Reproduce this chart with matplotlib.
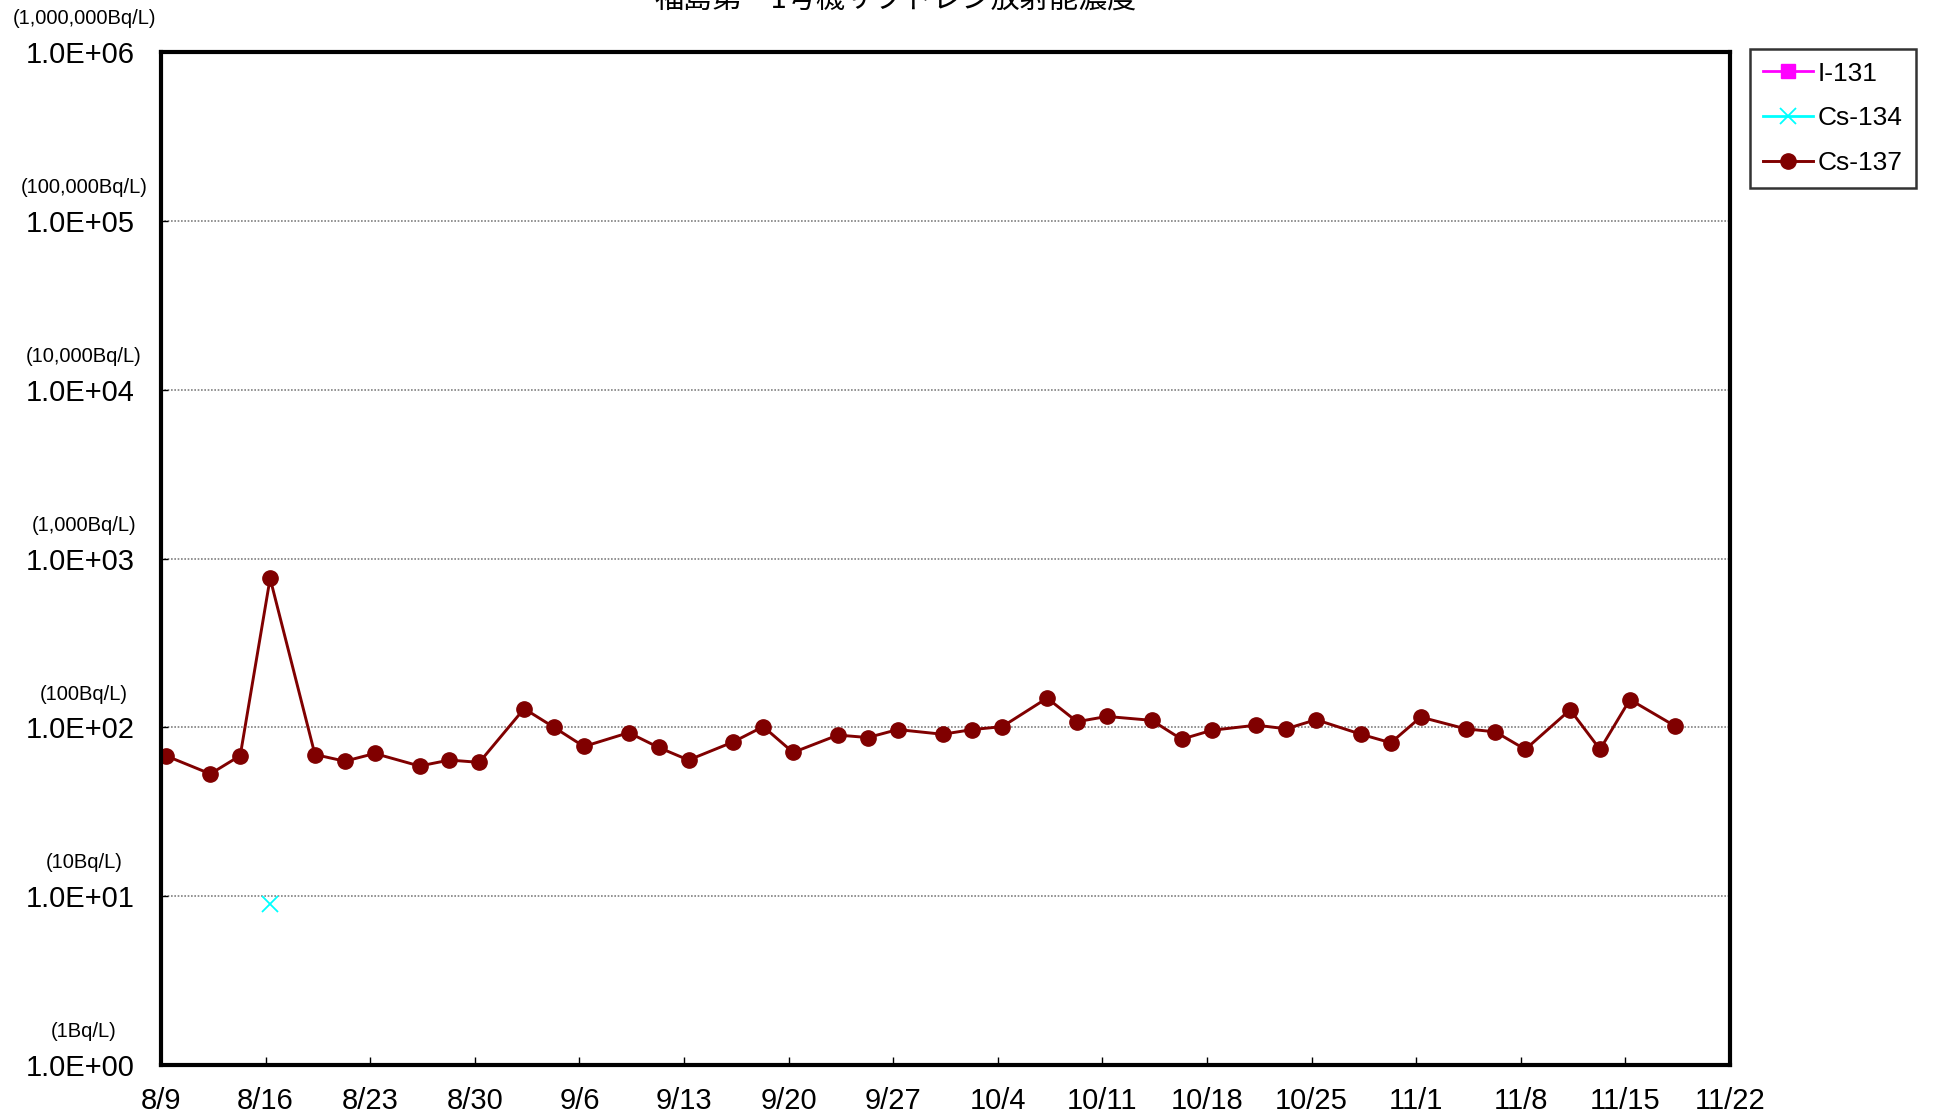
import matplotlib
matplotlib.use('Agg')
import matplotlib.pyplot as plt
import matplotlib.dates as mdates
import matplotlib.transforms as mtransforms
from datetime import datetime

plt.rcParams['font.family'] = ['Liberation Sans', 'Noto Sans CJK JP', 'DejaVu Sans']

title = "福島第一1号機サブドレン放射能濃度"

sample_dates = ["2011-08-09", "2011-08-12", "2011-08-14", "2011-08-16", "2011-08-19",
                "2011-08-21", "2011-08-23", "2011-08-26", "2011-08-28", "2011-08-30",
                "2011-09-02", "2011-09-04", "2011-09-06", "2011-09-09", "2011-09-11",
                "2011-09-13", "2011-09-16", "2011-09-18", "2011-09-20", "2011-09-23",
                "2011-09-25", "2011-09-27", "2011-09-30", "2011-10-02", "2011-10-04",
                "2011-10-07", "2011-10-09", "2011-10-11", "2011-10-14", "2011-10-16",
                "2011-10-18", "2011-10-21", "2011-10-23", "2011-10-25", "2011-10-28",
                "2011-10-30", "2011-11-01", "2011-11-04", "2011-11-06", "2011-11-08",
                "2011-11-11", "2011-11-13", "2011-11-15", "2011-11-18"]
sample_time = "07:15"

cs137 = [68, 53, 68, 763, 69, 63, 70, 59, 64, 62,
         129, 100, 77, 93, 76, 64, 82, 101, 71, 90,
         87, 97, 91, 97, 101, 149, 108, 116, 110, 85,
         96, 103, 98, 111, 91, 81, 115, 98, 94, 74,
         127, 74, 146, 102]

cs134_dates = ["2011-08-16"]
cs134 = [9.0]

i131_dates = []
i131 = []

xtick_dates = ["2011-08-09", "2011-08-16", "2011-08-23", "2011-08-30", "2011-09-06",
               "2011-09-13", "2011-09-20", "2011-09-27", "2011-10-04", "2011-10-11",
               "2011-10-18", "2011-10-25", "2011-11-01", "2011-11-08", "2011-11-15",
               "2011-11-22"]
xtick_labels = ["8/9", "8/16", "8/23", "8/30", "9/6", "9/13", "9/20", "9/27", "10/4",
                "10/11", "10/18", "10/25", "11/1", "11/8", "11/15", "11/22"]

ytick_values = [1e0, 1e1, 1e2, 1e3, 1e4, 1e5, 1e6]
ytick_labels = ["1.0E+00", "1.0E+01", "1.0E+02", "1.0E+03", "1.0E+04", "1.0E+05", "1.0E+06"]
unit_labels = ["(1Bq/L)", "(10Bq/L)", "(100Bq/L)", "(1,000Bq/L)", "(10,000Bq/L)",
               "(100,000Bq/L)", "(1,000,000Bq/L)"]


def to_dt(s, t=None):
    if t is None:
        return datetime.strptime(s, "%Y-%m-%d")
    return datetime.strptime(s + " " + t, "%Y-%m-%d %H:%M")


W, H = 1936, 1118
fig = plt.figure(figsize=(W / 100, H / 100), dpi=100)
L, R, T, B = 161, 1730, 52, 1065
ax = fig.add_axes([L / W, 1 - B / H, (R - L) / W, (B - T) / H])

x137 = [to_dt(d, sample_time) for d in sample_dates]
x134 = [to_dt(d, sample_time) for d in cs134_dates]
x131 = [to_dt(d, sample_time) for d in i131_dates]

ax.plot(x131, i131, color='#FF00FF', lw=2, marker='s', markersize=10, label='I-131')
ax.plot(x134, cs134, color='#00FFFF', lw=2, marker='x', markersize=11,
        markeredgewidth=1.3, label='Cs-134')
ax.plot(x137, cs137, color='#800000', lw=2.1, marker='o', markersize=11, label='Cs-137')

ax.set_yscale('log')
ax.set_ylim(1, 1e6)
ax.set_xlim(to_dt(xtick_dates[0]), to_dt(xtick_dates[-1]))

ax.set_xticks([mdates.date2num(to_dt(d)) for d in xtick_dates])
ax.set_xticklabels(xtick_labels, fontsize=21)
ax.set_yticks(ytick_values)
ax.set_yticklabels(ytick_labels, fontsize=21)
ax.yaxis.set_minor_locator(matplotlib.ticker.NullLocator())
ax.tick_params(axis='x', direction='in', length=6, width=1, pad=16)
ax.tick_params(axis='y', direction='in', length=5, width=1, pad=19)

ax.grid(axis='y', which='major', color='#808080', linestyle=(0, (1, 1)), linewidth=1.2)
ax.set_axisbelow(True)

for sp in ax.spines.values():
    sp.set_linewidth(3)
    sp.set_color('black')

trans = mtransforms.blended_transform_factory(ax.transAxes, ax.transData)
for v, lab in zip(ytick_values, unit_labels):
    ax.annotate(lab, xy=(-0.0490, v), xycoords=trans, xytext=(0, 24),
                textcoords='offset points', ha='center', va='center', fontsize=14.5,
                annotation_clip=False)

fig.text(896 / W, 1 - 8 / H, title, fontsize=21, ha='center', va='baseline',
         family=['Noto Sans CJK JP', 'Liberation Sans'])

leg = fig.legend(loc='upper left', bbox_to_anchor=(1750 / W, 1 - 49 / H),
                 fontsize=19, frameon=True, fancybox=False, edgecolor='black',
                 handlelength=1.9, handletextpad=0.2, labelspacing=0.78,
                 borderpad=0.48, borderaxespad=0)
leg.get_frame().set_linewidth(1.8)

fig.savefig('out.png', dpi=100, facecolor='white')
